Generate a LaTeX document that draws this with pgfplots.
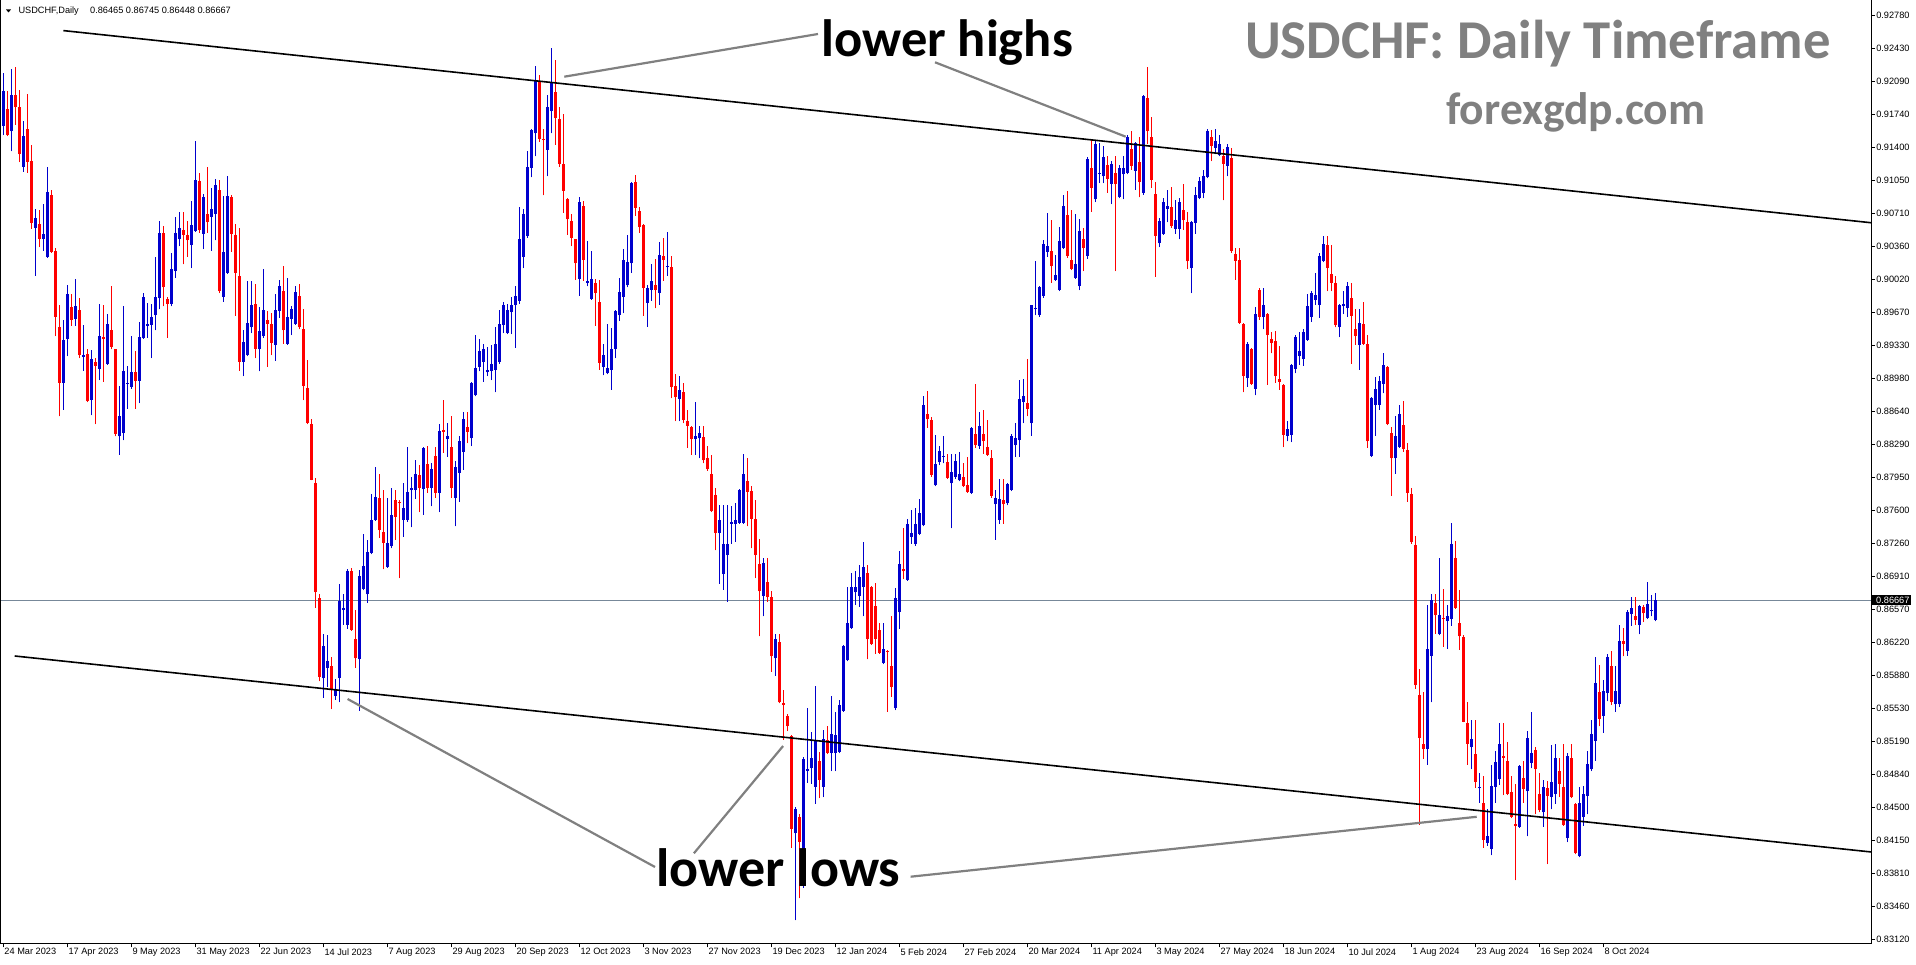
\documentclass[border=0pt]{standalone}
\usepackage{fontspec}
\setmainfont{Liberation Sans}
\newfontfamily\calib{Carlito}
\usepackage{pgfplots}
\usepackage{pgfplotstable}
\pgfplotsset{compat=1.18}

\definecolor{mtblue}{RGB}{0,0,205}
\definecolor{mtred}{RGB}{255,0,0}
\definecolor{pricegray}{RGB}{119,136,153}
\definecolor{anngray}{RGB}{128,128,128}
\newcommand{\mtf}{\fontsize{9.2pt}{10pt}\selectfont}

% daily candles: bar index, open, high, low, close
\pgfplotstableread{
i o h l c
0 0.9163 0.9218 0.9153 0.9199
1 0.9180 0.9199 0.9152 0.9153
2 0.9157 0.9222 0.9136 0.9195
3 0.9195 0.9224 0.9164 0.9182
4 0.9182 0.9200 0.9125 0.9133
5 0.9120 0.9168 0.9115 0.9152
6 0.9160 0.9196 0.9114 0.9125
7 0.9126 0.9143 0.9055 0.9061
8 0.9056 0.9076 0.9006 0.9066
9 0.9060 0.9075 0.9036 0.9045
10 0.9045 0.9081 0.9032 0.9050
11 0.9026 0.9120 0.9025 0.9094
12 0.9091 0.9096 0.9030 0.9031
13 0.9032 0.9035 0.8943 0.8963
14 0.8952 0.8975 0.8859 0.8894
15 0.8894 0.8960 0.8866 0.8939
16 0.8940 0.8996 0.8922 0.8987
17 0.8973 0.8987 0.8954 0.8960
18 0.8961 0.9003 0.8954 0.8974
19 0.8970 0.8983 0.8920 0.8923
20 0.8921 0.8955 0.8907 0.8923
21 0.8924 0.8929 0.8874 0.8875
22 0.8876 0.8928 0.8860 0.8919
23 0.8916 0.8920 0.8851 0.8912
24 0.8909 0.8977 0.8897 0.8943
25 0.8942 0.8975 0.8895 0.8940
26 0.8914 0.8966 0.8913 0.8956
27 0.8949 0.8995 0.8929 0.8932
28 0.8929 0.8930 0.8838 0.8841
29 0.8838 0.8891 0.8819 0.8859
30 0.8842 0.8974 0.8834 0.8907
31 0.8893 0.8912 0.8867 0.8894
32 0.8890 0.8943 0.8888 0.8905
33 0.8905 0.8927 0.8867 0.8896
34 0.8896 0.8958 0.8873 0.8942
35 0.8941 0.8988 0.8940 0.8984
36 0.8954 0.8978 0.8941 0.8956
37 0.8955 0.8977 0.8920 0.8963
38 0.8965 0.9026 0.8949 0.8984
39 0.8983 0.9063 0.8971 0.9051
40 0.9051 0.9058 0.8974 0.8994
41 0.8982 0.8984 0.8941 0.8977
42 0.8977 0.9030 0.8974 0.9013
43 0.9011 0.9067 0.9004 0.9051
44 0.9044 0.9073 0.9037 0.9056
45 0.9054 0.9073 0.9018 0.9049
46 0.9049 0.9063 0.9026 0.9043
47 0.9038 0.9084 0.9014 0.9059
48 0.9053 0.9147 0.9052 0.9106
49 0.9105 0.9113 0.9051 0.9054
50 0.9050 0.9092 0.9034 0.9088
51 0.9071 0.9120 0.9051 0.9062
52 0.9068 0.9098 0.9032 0.9076
53 0.9071 0.9107 0.9043 0.9101
54 0.9096 0.9106 0.8988 0.8990
55 0.8984 0.9089 0.8979 0.9031
56 0.9009 0.9110 0.9008 0.9089
57 0.9088 0.9090 0.9031 0.9050
58 0.9049 0.9060 0.8964 0.9009
59 0.9006 0.9056 0.8907 0.8916
60 0.8916 0.8949 0.8901 0.8937
61 0.8923 0.9001 0.8922 0.8957
62 0.8952 0.9001 0.8946 0.8976
63 0.8977 0.8997 0.8920 0.8930
64 0.8929 0.8973 0.8906 0.8948
65 0.8943 0.9013 0.8941 0.8970
66 0.8960 0.8969 0.8911 0.8956
67 0.8956 0.8967 0.8923 0.8936
68 0.8934 0.8987 0.8917 0.8970
69 0.8969 0.9002 0.8962 0.8995
70 0.8990 0.9016 0.8935 0.8949
71 0.8935 0.9004 0.8934 0.8963
72 0.8961 0.8974 0.8944 0.8971
73 0.8956 0.8995 0.8955 0.8989
74 0.8985 0.8997 0.8950 0.8952
75 0.8950 0.8971 0.8876 0.8891
76 0.8889 0.8918 0.8851 0.8852
77 0.8851 0.8856 0.8792 0.8793
78 0.8789 0.8795 0.8659 0.8675
79 0.8669 0.8673 0.8582 0.8587
80 0.8585 0.8631 0.8565 0.8619
81 0.8596 0.8630 0.8576 0.8603
82 0.8598 0.8607 0.8553 0.8574
83 0.8567 0.8584 0.8563 0.8574
84 0.8586 0.8684 0.8560 0.8666
85 0.8657 0.8673 0.8641 0.8659
86 0.8641 0.8699 0.8637 0.8697
87 0.8697 0.8701 0.8635 0.8636
88 0.8626 0.8657 0.8596 0.8606
89 0.8605 0.8698 0.8551 0.8692
90 0.8679 0.8736 0.8677 0.8703
91 0.8673 0.8730 0.8664 0.8717
92 0.8716 0.8778 0.8715 0.8751
93 0.8751 0.8806 0.8750 0.8775
94 0.8774 0.8799 0.8732 0.8740
95 0.8738 0.8782 0.8699 0.8727
96 0.8702 0.8774 0.8701 0.8727
97 0.8723 0.8784 0.8721 0.8756
98 0.8772 0.8782 0.8730 0.8754
99 0.8770 0.8772 0.8690 0.8768
100 0.8751 0.8789 0.8733 0.8763
101 0.8751 0.8827 0.8749 0.8780
102 0.8782 0.8796 0.8743 0.8784
103 0.8782 0.8813 0.8773 0.8799
104 0.8798 0.8808 0.8759 0.8784
105 0.8783 0.8827 0.8756 0.8826
106 0.8809 0.8828 0.8779 0.8784
107 0.8784 0.8810 0.8765 0.8804
108 0.8818 0.8827 0.8774 0.8779
109 0.8779 0.8851 0.8759 0.8844
110 0.8845 0.8876 0.8821 0.8843
111 0.8835 0.8852 0.8817 0.8838
112 0.8827 0.8859 0.8774 0.8784
113 0.8774 0.8812 0.8744 0.8806
114 0.8800 0.8838 0.8770 0.8833
115 0.8822 0.8864 0.8803 0.8856
116 0.8848 0.8864 0.8831 0.8843
117 0.8836 0.8895 0.8828 0.8894
118 0.8881 0.8944 0.8880 0.8910
119 0.8911 0.8940 0.8906 0.8927
120 0.8916 0.8935 0.8895 0.8929
121 0.8905 0.8932 0.8901 0.8908
122 0.8907 0.8934 0.8897 0.8914
123 0.8908 0.8953 0.8884 0.8935
124 0.8916 0.8970 0.8914 0.8956
125 0.8955 0.8979 0.8946 0.8976
126 0.8946 0.8977 0.8945 0.8970
127 0.8968 0.8984 0.8945 0.8976
128 0.8976 0.8995 0.8931 0.8985
129 0.8980 0.9078 0.8977 0.9045
130 0.9026 0.9076 0.9014 0.9071
131 0.9048 0.9136 0.9046 0.9120
132 0.9119 0.9159 0.9109 0.9158
133 0.9155 0.9225 0.9131 0.9211
134 0.9210 0.9216 0.9146 0.9149
135 0.9149 0.9159 0.9090 0.9148
136 0.9138 0.9195 0.9110 0.9183
137 0.9178 0.9244 0.9155 0.9208
138 0.9198 0.9232 0.9143 0.9171
139 0.9170 0.9183 0.9120 0.9123
140 0.9123 0.9175 0.9072 0.9095
141 0.9086 0.9087 0.9049 0.9065
142 0.9063 0.9071 0.9037 0.9046
143 0.9044 0.9045 0.9002 0.9019
144 0.9003 0.9088 0.8985 0.9083
145 0.9079 0.9084 0.9001 0.9023
146 0.8999 0.9042 0.8995 0.9001
147 0.8982 0.9032 0.8981 0.9003
148 0.8998 0.9003 0.8954 0.8988
149 0.8979 0.9002 0.8908 0.8915
150 0.8911 0.8935 0.8902 0.8923
151 0.8904 0.8956 0.8903 0.8910
152 0.8908 0.8951 0.8887 0.8930
153 0.8930 0.8970 0.8920 0.8969
154 0.8965 0.9004 0.8959 0.8989
155 0.8984 0.9034 0.8967 0.9023
156 0.8996 0.9049 0.8994 0.9020
157 0.9019 0.9104 0.9009 0.9103
158 0.9104 0.9111 0.9069 0.9077
159 0.9074 0.9078 0.9051 0.9057
160 0.9059 0.9060 0.8964 0.8993
161 0.8978 0.8996 0.8953 0.8993
162 0.8991 0.9018 0.8980 0.9001
163 0.8996 0.9024 0.8972 0.8991
164 0.8988 0.9041 0.8976 0.9028
165 0.9027 0.9046 0.9001 0.9023
166 0.9015 0.9052 0.9006 0.9016
167 0.9015 0.9027 0.8878 0.8890
168 0.8891 0.8903 0.8854 0.8879
169 0.8877 0.8901 0.8854 0.8887
170 0.8885 0.8894 0.8852 0.8855
171 0.8854 0.8866 0.8826 0.8849
172 0.8848 0.8849 0.8819 0.8835
173 0.8835 0.8874 0.8819 0.8838
174 0.8836 0.8849 0.8815 0.8842
175 0.8837 0.8849 0.8810 0.8813
176 0.8816 0.8828 0.8802 0.8804
177 0.8799 0.8819 0.8759 0.8760
178 0.8777 0.8784 0.8719 0.8737
179 0.8737 0.8766 0.8684 0.8751
180 0.8694 0.8766 0.8678 0.8726
181 0.8714 0.8766 0.8665 0.8726
182 0.8747 0.8765 0.8726 0.8749
183 0.8747 0.8768 0.8728 0.8751
184 0.8748 0.8783 0.8747 0.8782
185 0.8748 0.8820 0.8747 0.8799
186 0.8791 0.8815 0.8744 0.8780
187 0.8781 0.8786 0.8721 0.8752
188 0.8752 0.8772 0.8690 0.8714
189 0.8705 0.8731 0.8629 0.8676
190 0.8671 0.8711 0.8650 0.8706
191 0.8686 0.8711 0.8665 0.8670
192 0.8670 0.8676 0.8592 0.8608
193 0.8606 0.8632 0.8588 0.8626
194 0.8623 0.8632 0.8559 0.8560
195 0.8559 0.8573 0.8521 0.8557
196 0.8546 0.8548 0.8530 0.8535
197 0.8525 0.8526 0.8408 0.8428
198 0.8423 0.8451 0.8332 0.8449
199 0.8440 0.8443 0.8355 0.8414
200 0.8401 0.8503 0.8366 0.8501
201 0.8488 0.8554 0.8476 0.8490
202 0.8491 0.8529 0.8475 0.8502
203 0.8472 0.8577 0.8454 0.8521
204 0.8499 0.8508 0.8460 0.8479
205 0.8472 0.8531 0.8461 0.8522
206 0.8521 0.8535 0.8506 0.8507
207 0.8507 0.8567 0.8488 0.8527
208 0.8507 0.8550 0.8488 0.8526
209 0.8508 0.8562 0.8507 0.8557
210 0.8551 0.8620 0.8550 0.8619
211 0.8604 0.8681 0.8603 0.8643
212 0.8638 0.8695 0.8637 0.8681
213 0.8675 0.8697 0.8662 0.8681
214 0.8671 0.8704 0.8660 0.8691
215 0.8681 0.8728 0.8650 0.8702
216 0.8695 0.8704 0.8605 0.8626
217 0.8681 0.8682 0.8620 0.8621
218 0.8661 0.8685 0.8611 0.8626
219 0.8636 0.8643 0.8611 0.8612
220 0.8601 0.8643 0.8600 0.8616
221 0.8614 0.8615 0.8550 0.8613
222 0.8598 0.8650 0.8566 0.8576
223 0.8554 0.8680 0.8552 0.8669
224 0.8654 0.8718 0.8637 0.8705
225 0.8699 0.8742 0.8689 0.8697
226 0.8688 0.8752 0.8687 0.8746
227 0.8733 0.8761 0.8726 0.8737
228 0.8726 0.8763 0.8724 0.8747
229 0.8736 0.8773 0.8735 0.8758
230 0.8745 0.8880 0.8744 0.8871
231 0.8862 0.8886 0.8847 0.8856
232 0.8855 0.8858 0.8796 0.8798
233 0.8787 0.8840 0.8786 0.8809
234 0.8811 0.8828 0.8808 0.8823
235 0.8817 0.8838 0.8810 0.8818
236 0.8811 0.8820 0.8794 0.8795
237 0.8789 0.8820 0.8742 0.8801
238 0.8796 0.8820 0.8794 0.8812
239 0.8792 0.8822 0.8791 0.8799
240 0.8796 0.8810 0.8785 0.8786
241 0.8787 0.8817 0.8779 0.8780
242 0.8779 0.8848 0.8778 0.8847
243 0.8841 0.8893 0.8826 0.8829
244 0.8828 0.8864 0.8825 0.8849
245 0.8841 0.8866 0.8820 0.8833
246 0.8827 0.8855 0.8818 0.8819
247 0.8815 0.8824 0.8774 0.8776
248 0.8767 0.8782 0.8730 0.8774
249 0.8751 0.8794 0.8747 0.8773
250 0.8772 0.8794 0.8747 0.8767
251 0.8768 0.8789 0.8766 0.8788
252 0.8782 0.8841 0.8781 0.8838
253 0.8829 0.8852 0.8817 0.8836
254 0.8834 0.8897 0.8817 0.8877
255 0.8874 0.8898 0.8852 0.8880
256 0.8873 0.8919 0.8859 0.8867
257 0.8852 0.8976 0.8839 0.8975
258 0.8971 0.9021 0.8965 0.8972
259 0.8965 0.8995 0.8963 0.8994
260 0.8985 0.9043 0.8983 0.9039
261 0.9031 0.9072 0.9026 0.9037
262 0.9032 0.9064 0.8999 0.9016
263 0.9002 0.9028 0.9001 0.9007
264 0.8991 0.9057 0.8990 0.9042
265 0.9035 0.9091 0.9034 0.9079
266 0.9070 0.9095 0.9025 0.9027
267 0.9023 0.9075 0.9012 0.9013
268 0.9004 0.9071 0.9003 0.9018
269 0.8995 0.9065 0.8991 0.9053
270 0.9044 0.9056 0.9011 0.9035
271 0.9027 0.9130 0.9024 0.9128
272 0.9119 0.9148 0.9073 0.9098
273 0.9086 0.9148 0.9083 0.9144
274 0.9113 0.9145 0.9103 0.9114
275 0.9110 0.9142 0.9103 0.9130
276 0.9122 0.9131 0.9093 0.9107
277 0.9102 0.9126 0.9081 0.9123
278 0.9114 0.9131 0.9011 0.9102
279 0.9088 0.9122 0.9087 0.9119
280 0.9112 0.9131 0.9086 0.9119
281 0.9113 0.9153 0.9112 0.9151
282 0.9139 0.9157 0.9117 0.9121
283 0.9116 0.9146 0.9096 0.9145
284 0.9125 0.9151 0.9088 0.9104
285 0.9093 0.9195 0.9091 0.9194
286 0.9192 0.9224 0.9144 0.9157
287 0.9151 0.9172 0.9098 0.9106
288 0.9092 0.9104 0.9005 0.9048
289 0.9040 0.9066 0.9036 0.9063
290 0.9050 0.9087 0.9049 0.9083
291 0.9076 0.9096 0.9062 0.9079
292 0.9078 0.9099 0.9056 0.9058
293 0.9055 0.9085 0.9050 0.9064
294 0.9055 0.9087 0.9044 0.9083
295 0.9075 0.9102 0.9054 0.9064
296 0.9062 0.9073 0.9013 0.9021
297 0.9014 0.9063 0.8988 0.9062
298 0.9061 0.9099 0.9050 0.9091
299 0.9087 0.9109 0.9086 0.9105
300 0.9093 0.9117 0.9087 0.9110
301 0.9109 0.9159 0.9108 0.9157
302 0.9151 0.9158 0.9126 0.9142
303 0.9140 0.9159 0.9133 0.9147
304 0.9132 0.9153 0.9131 0.9144
305 0.9131 0.9139 0.9085 0.9123
306 0.9121 0.9144 0.9110 0.9141
307 0.9129 0.9140 0.9030 0.9032
308 0.9029 0.9035 0.9002 0.9022
309 0.9023 0.9035 0.8956 0.8957
310 0.8956 0.8957 0.8884 0.8901
311 0.8899 0.8937 0.8890 0.8935
312 0.8930 0.8931 0.8892 0.8893
313 0.8888 0.8973 0.8881 0.8966
314 0.8991 0.8993 0.8960 0.8963
315 0.8963 0.8993 0.8950 0.8976
316 0.8966 0.8967 0.8892 0.8944
317 0.8940 0.8947 0.8925 0.8936
318 0.8938 0.8948 0.8894 0.8901
319 0.8898 0.8933 0.8887 0.8895
320 0.8892 0.8893 0.8827 0.8840
321 0.8839 0.8854 0.8833 0.8846
322 0.8840 0.8914 0.8832 0.8913
323 0.8909 0.8944 0.8904 0.8942
324 0.8922 0.8947 0.8913 0.8927
325 0.8919 0.8950 0.8912 0.8947
326 0.8939 0.8987 0.8938 0.8974
327 0.8963 0.8990 0.8958 0.8988
328 0.8981 0.9009 0.8976 0.8986
329 0.8976 0.9030 0.8962 0.9027
330 0.9022 0.9048 0.9020 0.9039
331 0.9038 0.9048 0.8990 0.9014
332 0.9008 0.9038 0.8990 0.8999
333 0.8999 0.9006 0.8952 0.8955
334 0.8952 0.8977 0.8942 0.8975
335 0.8974 0.8990 0.8966 0.8977
336 0.8972 0.9000 0.8963 0.8995
337 0.8983 0.8998 0.8914 0.8964
338 0.8950 0.8971 0.8934 0.8943
339 0.8934 0.8971 0.8908 0.8957
340 0.8956 0.8979 0.8934 0.8935
341 0.8935 0.8944 0.8826 0.8833
342 0.8818 0.8879 0.8817 0.8878
343 0.8871 0.8900 0.8839 0.8888
344 0.8871 0.8901 0.8866 0.8896
345 0.8893 0.8925 0.8883 0.8913
346 0.8911 0.8912 0.8850 0.8851
347 0.8842 0.8848 0.8776 0.8815
348 0.8815 0.8859 0.8799 0.8838
349 0.8827 0.8871 0.8826 0.8862
350 0.8850 0.8875 0.8822 0.8825
351 0.8824 0.8831 0.8770 0.8779
352 0.8778 0.8784 0.8726 0.8728
353 0.8725 0.8734 0.8574 0.8578
354 0.8568 0.8595 0.8432 0.8523
355 0.8517 0.8571 0.8501 0.8511
356 0.8511 0.8662 0.8495 0.8616
357 0.8609 0.8673 0.8560 0.8667
358 0.8664 0.8673 0.8632 0.8651
359 0.8631 0.8711 0.8630 0.8651
360 0.8648 0.8679 0.8618 0.8647
361 0.8645 0.8662 0.8616 0.8650
362 0.8647 0.8748 0.8640 0.8726
363 0.8711 0.8729 0.8658 0.8659
364 0.8643 0.8678 0.8615 0.8629
365 0.8628 0.8630 0.8539 0.8540
366 0.8538 0.8560 0.8495 0.8517
367 0.8513 0.8542 0.8490 0.8522
368 0.8506 0.8542 0.8471 0.8477
369 0.8470 0.8486 0.8455 0.8472
370 0.8455 0.8483 0.8408 0.8416
371 0.8413 0.8448 0.8410 0.8420
372 0.8407 0.8495 0.8400 0.8473
373 0.8472 0.8509 0.8455 0.8498
374 0.8480 0.8538 0.8474 0.8517
375 0.8504 0.8538 0.8463 0.8502
376 0.8499 0.8519 0.8463 0.8464
377 0.8466 0.8483 0.8439 0.8440
378 0.8433 0.8475 0.8374 0.8431
379 0.8430 0.8495 0.8429 0.8494
380 0.8481 0.8499 0.8455 0.8469
381 0.8467 0.8530 0.8420 0.8523
382 0.8497 0.8550 0.8491 0.8507
383 0.8510 0.8513 0.8443 0.8490
384 0.8464 0.8486 0.8445 0.8447
385 0.8445 0.8479 0.8430 0.8472
386 0.8470 0.8478 0.8391 0.8462
387 0.8461 0.8515 0.8448 0.8477
388 0.8464 0.8517 0.8454 0.8502
389 0.8488 0.8502 0.8461 0.8475
390 0.8472 0.8517 0.8431 0.8432
391 0.8418 0.8507 0.8414 0.8504
392 0.8502 0.8517 0.8460 0.8461
393 0.8454 0.8455 0.8401 0.8403
394 0.8399 0.8472 0.8398 0.8455
395 0.8440 0.8473 0.8431 0.8464
396 0.8462 0.8509 0.8443 0.8496
397 0.8490 0.8542 0.8488 0.8527
398 0.8520 0.8607 0.8499 0.8580
399 0.8571 0.8599 0.8535 0.8543
400 0.8546 0.8583 0.8528 0.8572
401 0.8570 0.8611 0.8561 0.8607
402 0.8598 0.8614 0.8557 0.8560
403 0.8558 0.8598 0.8550 0.8572
404 0.8558 0.8641 0.8555 0.8624
405 0.8624 0.8638 0.8608 0.8621
406 0.8614 0.8657 0.8609 0.8654
407 0.8652 0.8670 0.8640 0.8659
408 0.8650 0.8670 0.8641 0.8646
409 0.8641 0.8662 0.8631 0.8661
410 0.8660 0.8662 0.8644 0.8653
411 0.8648 0.8686 0.8647 0.8663
412 0.8656 0.8672 0.8650 0.8657
413 0.86465 0.86745 0.86448 0.86667
}\candles

% candles drawn as upward error bars from a base value; the marks are hidden
\pgfplotsset{
  candlepart/.style 2 args={only marks, mark=*, mark size=0pt,
    mark options={draw=none, fill=none}, forget plot,
    error bars/y dir=plus, error bars/y explicit, error bars/error mark=none,
    error bars/error bar style={draw=#1, line width=#2, line cap=butt}},
  up/.style={restrict expr to domain={\thisrow{c}-\thisrow{o}}{0:1}},
  down/.style={restrict expr to domain={\thisrow{o}-\thisrow{c}}{0.000001:1}},
}

\begin{document}
\begin{tikzpicture}
\useasboundingbox (0pt,0pt) rectangle (1916pt,964pt);
\begin{axis}[
  at={(1pt,20.7pt)}, anchor=south west,
  scale only axis, width=1870pt, height=943.3pt,
  xmin=-0.575, xmax=466.925, ymin=0.83081, ymax=0.92944,
  axis line style={line width=1pt},
  xtick={0,16,...,400},
  xticklabels={24 Mar 2023,17 Apr 2023,9 May 2023,31 May 2023,22 Jun 2023,14 Jul 2023,7 Aug 2023,29 Aug 2023,20 Sep 2023,12 Oct 2023,3 Nov 2023,27 Nov 2023,19 Dec 2023,12 Jan 2024,5 Feb 2024,27 Feb 2024,20 Mar 2024,11 Apr 2024,3 May 2024,27 May 2024,18 Jun 2024,10 Jul 2024,1 Aug 2024,23 Aug 2024,16 Sep 2024,8 Oct 2024},
  ytick={0.83120,0.83465,0.83810,0.84155,0.84500,0.84845,0.85190,0.85535,0.85880,0.86225,0.86570,0.86915,0.87260,0.87605,0.87950,0.88295,0.88640,0.88985,0.89330,0.89675,0.90020,0.90365,0.90710,0.91055,0.91400,0.91745,0.92090,0.92435,0.92780},
  yticklabels={0.83120,0.83460,0.83810,0.84150,0.84500,0.84840,0.85190,0.85530,0.85880,0.86220,0.86570,0.86910,0.87260,0.87600,0.87950,0.88290,0.88640,0.88980,0.89330,0.89670,0.90020,0.90360,0.90710,0.91050,0.91400,0.91740,0.92090,0.92430,0.92780},
  ytick pos=right, xtick pos=bottom,
  tick align=outside, major tick length=4pt,
  tick style={black, line width=1pt},
  yticklabel style={font=\mtf, anchor=west, inner sep=0pt, xshift=1pt},
  xticklabel style={font=\mtf, anchor=north west, inner sep=0pt, xshift=1pt, yshift=-1pt},
]
% current price line
\addplot[pricegray, line width=1pt] coordinates {(-0.575,0.86667) (466.925,0.86667)};
% wicks: from low up to high
\addplot[candlepart={mtblue}{1pt}, up] table[x=i, y=l, y error expr={\thisrow{h}-\thisrow{l}}] {\candles};
\addplot[candlepart={mtred}{1pt}, down] table[x=i, y=l, y error expr={\thisrow{h}-\thisrow{l}}] {\candles};
% bodies: from the lower of open/close up to the higher
\addplot[candlepart={mtblue}{3pt}, up] table[x=i, y=o, y error expr={\thisrow{c}-\thisrow{o}}] {\candles};
\addplot[candlepart={mtred}{3pt}, down] table[x=i, y=c, y error expr={\thisrow{o}-\thisrow{c}}] {\candles};
% channel lines
\addplot[black, line width=1.6pt] coordinates {(15,0.92624) (466.925,0.90615)};
\addplot[black, line width=1.6pt] coordinates {(2.85,0.86085) (466.925,0.84036)};
\end{axis}

% header
\fill (6pt,954.5pt) -- (11pt,954.5pt) -- (8.5pt,951.5pt) -- cycle;
\node[anchor=base west, inner sep=0pt, font=\mtf] at (18.3pt,950.5pt) {USDCHF,Daily};
\node[anchor=base west, inner sep=0pt, font=\mtf] at (90pt,950.5pt) {0.86465 0.86745 0.86448 0.86667};

% current price tag
\fill[black] (1871.5pt,358.5pt) rectangle (1911pt,369pt);
\node[anchor=west, inner sep=0pt, font=\mtf, text=white] at (1876pt,363.7pt) {0.86667};

% annotation lines
\begin{scope}[anngray, line width=2.2pt]
\draw (564.3pt,887.3pt) -- (818pt,930pt);
\draw (935pt,901.7pt) -- (1125.7pt,827.3pt);
\draw (347.6pt,265pt) -- (655pt,97pt);
\draw (693.9pt,110.7pt) -- (783.1pt,218pt);
\draw (910.6pt,87.3pt) -- (1476.7pt,147.2pt);
\end{scope}

% texts
\node[anchor=base west, inner sep=0pt, font=\calib\bfseries\fontsize{52.5pt}{60pt}\selectfont] at (821pt,907.5pt) {lower highs};
\node[anchor=base west, inner sep=0pt, font=\calib\bfseries\fontsize{54pt}{62pt}\selectfont] at (656pt,78pt) {lower lows};
\node[anchor=base west, inner sep=0pt, text=anngray, font=\calib\bfseries\fontsize{54.7pt}{62pt}\selectfont] at (1245pt,905.4pt) {USDCHF: Daily Timeframe};
\node[anchor=base west, inner sep=0pt, text=anngray, font=\calib\bfseries\fontsize{45.5pt}{52pt}\selectfont] at (1446pt,839.5pt) {forexgdp.com};
\end{tikzpicture}
\end{document}
